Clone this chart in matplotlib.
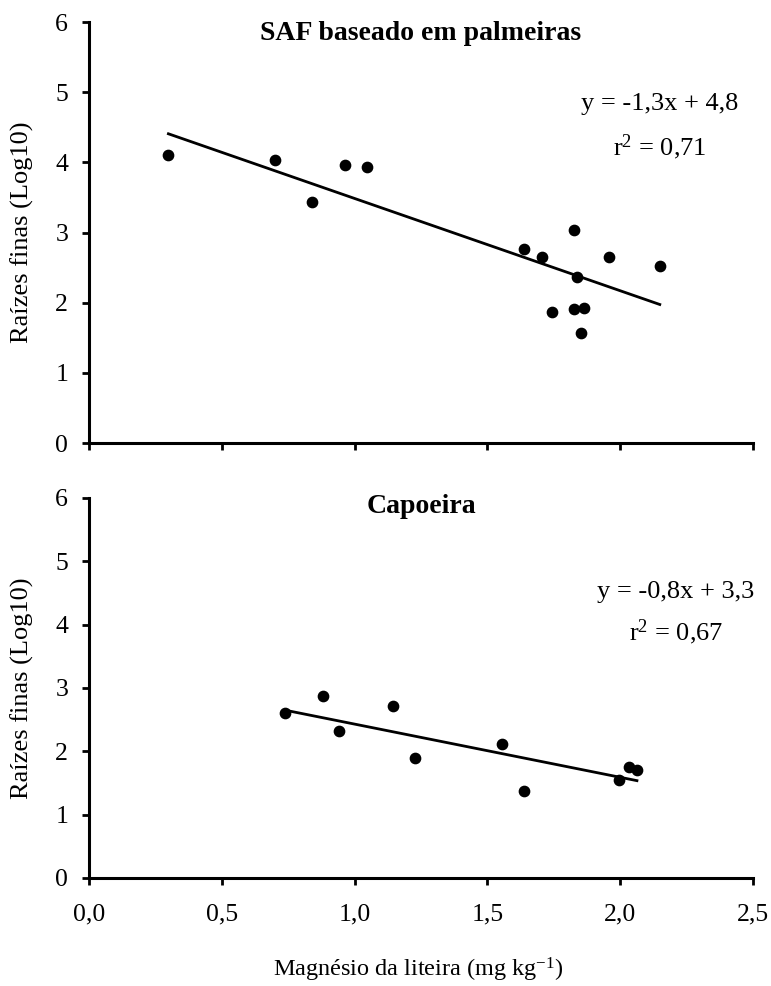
import matplotlib
matplotlib.use("Agg")
import matplotlib.pyplot as plt
import numpy as np

plt.rcParams['font.family'] = ['Liberation Serif', 'DejaVu Serif']
plt.rcParams['mathtext.fontset'] = 'custom'
plt.rcParams['mathtext.rm'] = 'Liberation Serif'
plt.rcParams['mathtext.it'] = 'Liberation Serif:italic'

# ---- data ----
saf_x = [0.299, 0.701, 0.840, 0.965, 1.046, 1.637, 1.707, 1.825, 1.839, 1.958,
         2.149, 1.745, 1.826, 1.865, 1.851]
saf_y = [4.10, 4.03, 3.43, 3.96, 3.94, 2.77, 2.65, 3.03, 2.36, 2.65,
         2.52, 1.86, 1.91, 1.93, 1.57]
saf_fit = [-1.315, 4.80]          # slope, intercept
saf_title = "SAF baseado em palmeiras"
saf_eq = ["y = -1,3x + 4,8", "r$^{2}$ = 0,71"]

cap_x = [0.739, 0.882, 0.941, 1.144, 1.226, 1.555, 1.637, 1.997, 2.035, 2.063]
cap_y = [2.61, 2.88, 2.32, 2.72, 1.90, 2.11, 1.37, 1.55, 1.76, 1.70]
cap_fit = [-0.84, 3.27]
cap_title = "Capoeira"
cap_eq = ["y = -0,8x + 3,3", "r$^{2}$ = 0,67"]

xticks = [0.0, 0.5, 1.0, 1.5, 2.0, 2.5]
xticklabels = ["0,0", "0,5", "1,0", "1,5", "2,0", "2,5"]
yticks = [0, 1, 2, 3, 4, 5, 6]
ylabel = "Raízes finas (Log10)"
xlabel = "Magnésio da liteira (mg kg$^{-1}$)"

W, H = 771, 986
fig = plt.figure(figsize=(W / 100, H / 100), dpi=100)

def px_axes(l, t, r, b):
    return [l / W, 1 - b / H, (r - l) / W, (b - t) / H]

ax1 = fig.add_axes(px_axes(89, 22, 753, 443))
ax2 = fig.add_axes(px_axes(89, 498, 753, 878))

panels = [
    (ax1, saf_x, saf_y, saf_fit, saf_title, saf_eq, 0.972, (0.86, 0.805, 0.703), False),
    (ax2, cap_x, cap_y, cap_fit, cap_title, cap_eq, 0.978, (0.884, 0.753, 0.647), True),
]

for ax, xs, ys, fit, title, eq, ty, epos, show_xlabels in panels:
    xs = np.asarray(xs)
    ax.scatter(xs, ys, s=55, color='black', zorder=3, clip_on=False)
    xl = np.array([xs.min(), xs.max()])
    ax.plot(xl, fit[0] * xl + fit[1], color='black', lw=2.0, zorder=2)
    ax.set_xlim(0, 2.5)
    ax.set_ylim(0, 6)
    ax.set_xticks(xticks)
    ax.set_yticks(yticks)
    if show_xlabels:
        ax.set_xticklabels(xticklabels)
    else:
        ax.set_xticklabels([])
    for s in ['top', 'right']:
        ax.spines[s].set_visible(False)
    for s in ['left', 'bottom']:
        ax.spines[s].set_linewidth(2.2)
    ax.tick_params(axis='both', direction='out', length=5, width=2.0,
                   labelsize=18.5, colors='black')
    ax.tick_params(axis='y', pad=10)
    ax.tick_params(axis='x', pad=13)
    ax.text(0.5, ty, title, transform=ax.transAxes, ha='center', va='center',
            fontsize=20, fontweight='bold')
    ax.text(epos[0], epos[1], eq[0], transform=ax.transAxes, ha='center',
            va='center', fontsize=19)
    ax.text(epos[0], epos[2], eq[1], transform=ax.transAxes, ha='center',
            va='center', fontsize=19)
    bb = ax.get_position()
    fig.text(22.5 / W, bb.y0 + bb.height / 2, ylabel, rotation=90,
             ha='center', va='center', fontsize=19)

fig.text(418 / W, 1 - 970 / H, xlabel, ha='center', va='center', fontsize=17.5)

fig.savefig("out.png", dpi=100)
